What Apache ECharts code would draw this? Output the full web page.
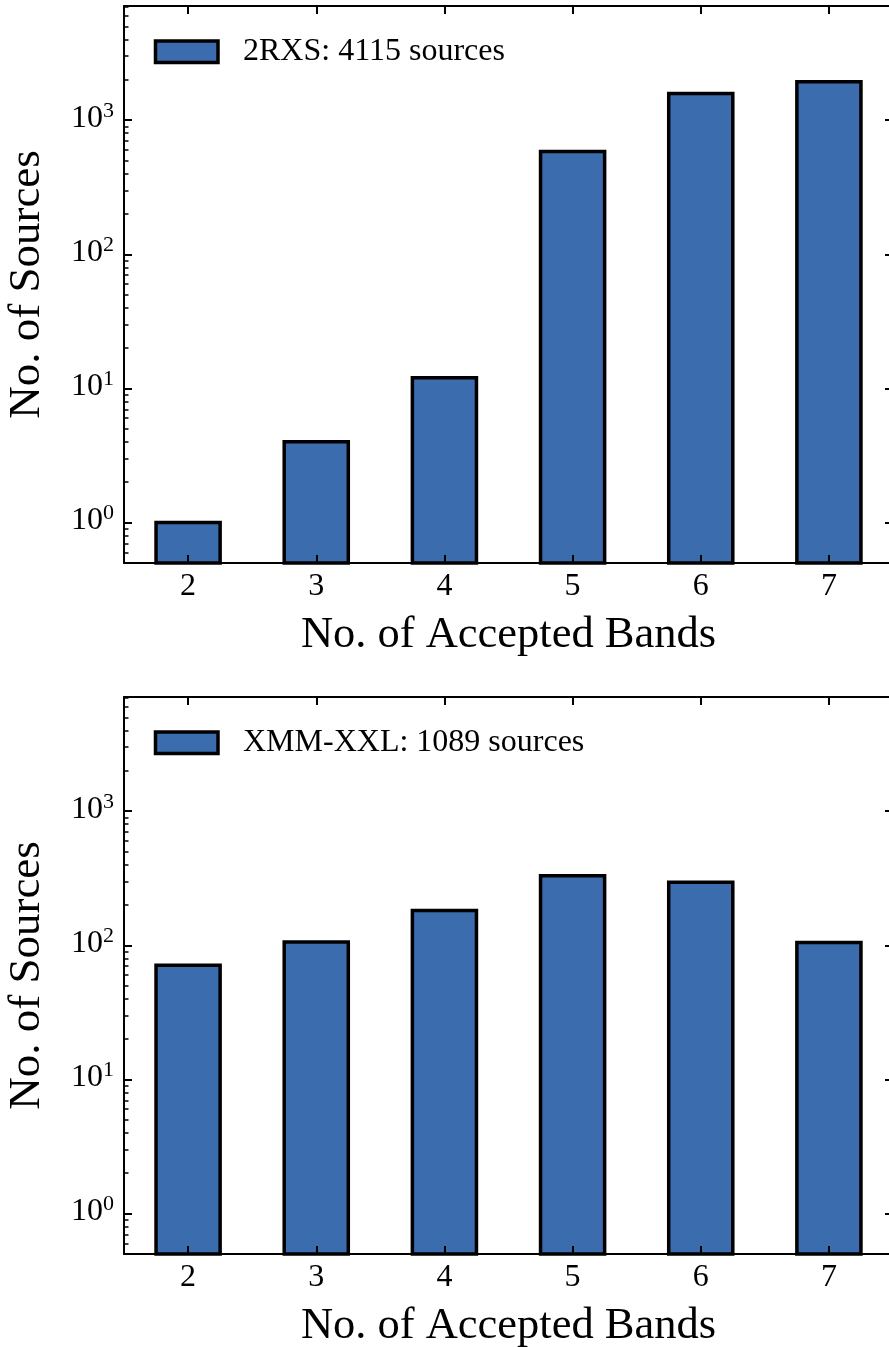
<!DOCTYPE html>
<html>
<head>
<meta charset="utf-8">
<script src="https://cdn.jsdelivr.net/npm/echarts@6/dist/echarts.min.js"></script>
<style>
  html, body { margin: 0; padding: 0; background: #fff; }
  #chart { width: 889px; height: 1347px; }
</style>
</head>
<body>
<div id="chart"></div>
<script>
// Number of accepted bands per source, two catalogues
const bands = ['2', '3', '4', '5', '6', '7'];
const rxsCounts = [1, 4, 12, 583, 1582, 1933];
const xxlCounts = [71, 106, 182, 330, 295, 105];
const rxsName = '2RXS';
const xxlName = 'XMM-XXL';

// Log axis range and tick positions
const yMin = 0.5;
const yMax = 7100;
const majorTicks = [1, 10, 100, 1000];
const minorTicks = [];
[0.1, 1, 10, 100, 1000].forEach(function (d) {
  for (let k = 2; k <= 9; k++) {
    const v = d * k;
    if (v > yMin && v < yMax) minorTicks.push(v);
  }
});

const FONT = 'Liberation Serif';
const BAR_COLOR = '#3a6cae';
const EDGE_W = 3.5;
const total = a => a.reduce((s, v) => s + v, 0);
const legendLabel = (name, arr) => name + ': ' + total(arr) + ' sources';

const panels = [
  { name: legendLabel(rxsName, rxsCounts), data: rxsCounts, top: 6 },
  { name: legendLabel(xxlName, xxlCounts), data: xxlCounts, top: 697 }
];
const PANEL_H = 557;

const majorTick = { show: true, inside: true, length: 8, lineStyle: { color: '#000', width: 2 } };
const minorTick = { show: true, inside: true, length: 4.5, lineStyle: { color: '#000', width: 1.5 } };
const spine = { show: true, lineStyle: { color: '#000', width: 2 } };

const grids = [], xAxes = [], yAxes = [], series = [], legends = [];

panels.forEach(function (p, gi) {
  grids.push({ left: 124, right: -4, top: p.top, height: PANEL_H, outerBoundsMode: 'none' });

  const base = { gridIndex: gi, type: 'category', data: bands, boundaryGap: true, z: 5, splitLine: { show: false } };
  // bottom axis with labels and title
  xAxes.push(Object.assign({}, base, {
    position: 'bottom',
    name: 'No. of Accepted Bands',
    nameLocation: 'middle',
    nameGap: 50,
    nameTextStyle: { fontFamily: FONT, fontSize: 44.5, color: '#000' },
    axisLine: spine,
    axisTick: Object.assign({ alignWithLabel: true }, majorTick),
    axisLabel: { show: true, fontFamily: FONT, fontSize: 32, color: '#000', margin: 8 }
  }));
  // top spine with mirrored ticks
  xAxes.push(Object.assign({}, base, {
    position: 'top',
    axisLine: spine,
    axisTick: Object.assign({ alignWithLabel: true }, majorTick),
    axisLabel: { show: false }
  }));

  const ybase = { gridIndex: gi, type: 'log', logBase: 10, min: yMin, max: yMax, z: 5, splitLine: { show: false } };
  // left major ticks, labels and title
  yAxes.push(Object.assign({}, ybase, {
    position: 'left',
    name: 'No. of Sources',
    nameLocation: 'middle',
    nameGap: 74,
    nameTextStyle: { fontFamily: FONT, fontSize: 45, color: '#000' },
    axisLine: spine,
    axisTick: Object.assign({ customValues: majorTicks }, majorTick),
    axisLabel: {
      show: true,
      customValues: majorTicks,
      margin: 10,
      padding: [0, 0, 6, 0],
      formatter: v => '{b|10}{s|' + Math.round(Math.log10(v)) + '}',
      rich: {
        b: { fontFamily: FONT, fontSize: 32, color: '#000', lineHeight: 34, verticalAlign: 'bottom' },
        s: { fontFamily: FONT, fontSize: 22, color: '#000', lineHeight: 22, verticalAlign: 'top' }
      }
    }
  }));
  // left minor ticks
  yAxes.push(Object.assign({}, ybase, {
    position: 'left',
    axisLine: { show: false },
    axisTick: Object.assign({ customValues: minorTicks }, minorTick),
    axisLabel: { show: false }
  }));
  // right spine, major ticks
  yAxes.push(Object.assign({}, ybase, {
    position: 'right',
    axisLine: spine,
    axisTick: Object.assign({ customValues: majorTicks }, majorTick),
    axisLabel: { show: false }
  }));

  // bars from the axis floor up to each count
  series.push({
    type: 'custom',
    name: p.name,
    xAxisIndex: gi * 2,
    yAxisIndex: gi * 3,
    itemStyle: { color: BAR_COLOR, borderColor: '#000', borderWidth: EDGE_W },
    data: p.data.map((v, i) => [i, v]),
    renderItem: function (params, api) {
      const topPt = api.coord([api.value(0), api.value(1)]);
      const basePt = api.coord([api.value(0), yMin]);
      const w = params.coordSys.width / bands.length * 0.5;
      return {
        type: 'rect',
        shape: { x: topPt[0] - w / 2, y: topPt[1], width: w, height: basePt[1] - topPt[1] },
        style: { fill: BAR_COLOR, stroke: '#000', lineWidth: EDGE_W }
      };
    },
    z: 2
  });

  legends.push({
    data: [p.name],
    left: 153.75,
    top: p.top + 29.75,
    padding: 0,
    selectedMode: false,
    icon: 'rect',
    itemWidth: 62.5,
    itemHeight: 21.5,
    itemStyle: { color: BAR_COLOR, borderColor: '#000', borderWidth: EDGE_W },
    textStyle: { fontFamily: FONT, fontSize: 32, color: '#000', lineHeight: 22, padding: [0, 0, 0, 20] }
  });
});

const chart = echarts.init(document.getElementById('chart'), null, { renderer: 'canvas' });
chart.setOption({
  animation: false,
  backgroundColor: '#fff',
  textStyle: { fontFamily: FONT },
  grid: grids,
  xAxis: xAxes,
  yAxis: yAxes,
  legend: legends,
  series: series
});
</script>
</body>
</html>
